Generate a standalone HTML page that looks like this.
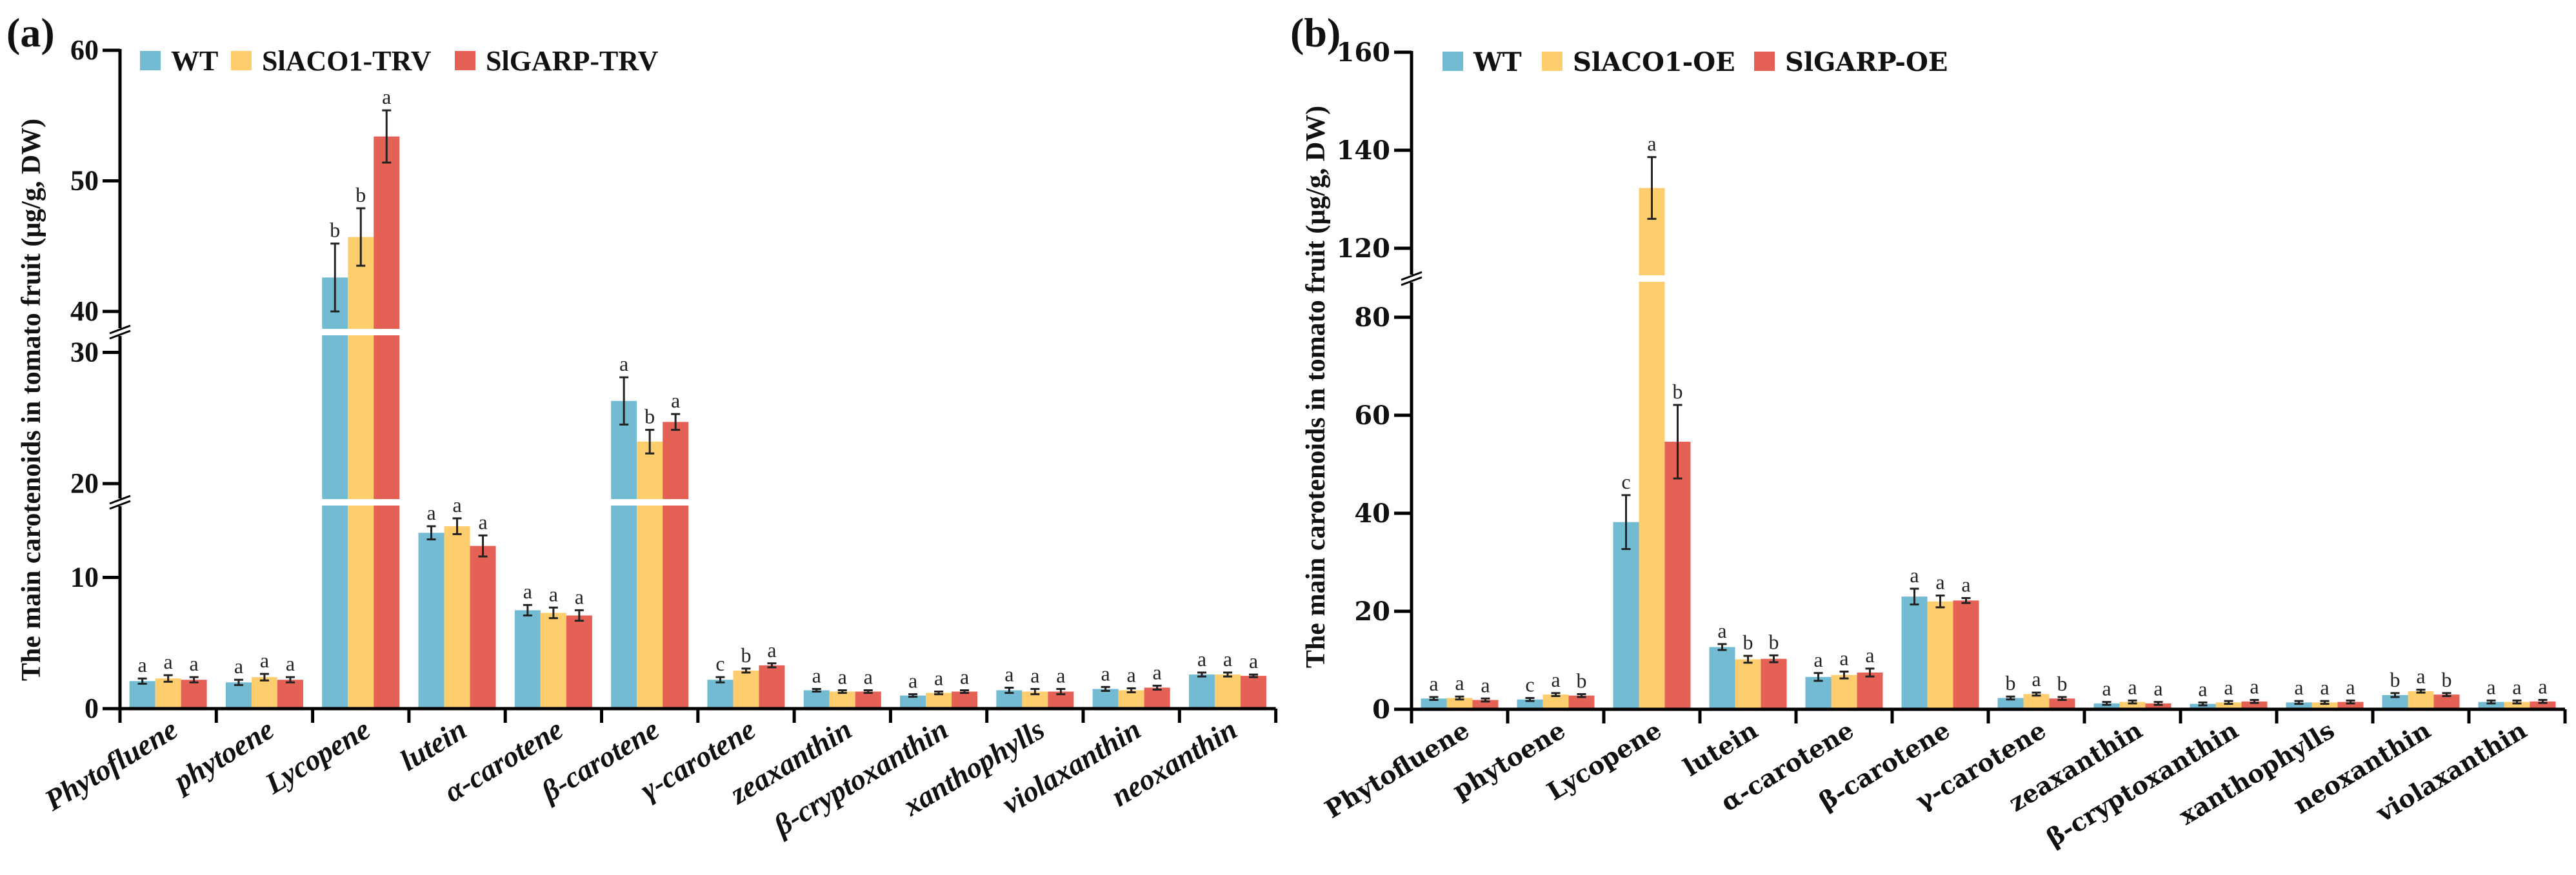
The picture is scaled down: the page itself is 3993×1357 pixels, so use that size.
<!DOCTYPE html>
<html><head><meta charset="utf-8"><style>
html,body{margin:0;padding:0;background:#fff;}
svg{display:block;font-family:"Liberation Serif",serif;}
</style></head><body>
<svg id="c" width="3993" height="1357" viewBox="0 0 3993 1357" xmlns="http://www.w3.org/2000/svg"></svg>
<script>
const categoriesA = ["Phytofluene","phytoene","Lycopene","lutein","α-carotene","β-carotene","γ-carotene","zeaxanthin","β-cryptoxanthin","xanthophylls","violaxanthin","neoxanthin"];
const seriesNamesA = ["WT","SlACO1-TRV","SlGARP-TRV"];
const wtA =   [2.1,2.0,42.6,13.4,7.5,26.3,2.2,1.4,1.0,1.4,1.5,2.6];
const acoA =  [2.3,2.4,45.7,13.9,7.3,23.2,2.9,1.3,1.2,1.3,1.4,2.6];
const garpA = [2.2,2.2,53.4,12.4,7.1,24.7,3.3,1.3,1.3,1.3,1.6,2.5];
const wtErrA =   [0.2,0.2,2.6,0.5,0.4,1.8,0.2,0.1,0.1,0.2,0.15,0.15];
const acoErrA =  [0.25,0.25,2.2,0.6,0.4,0.9,0.15,0.1,0.1,0.2,0.15,0.15];
const garpErrA = [0.2,0.2,2.0,0.8,0.4,0.6,0.15,0.1,0.1,0.2,0.15,0.1];
const lettersA = [["a","a","a"],["a","a","a"],["b","b","a"],["a","a","a"],["a","a","a"],["a","b","a"],["c","b","a"],["a","a","a"],["a","a","a"],["a","a","a"],["a","a","a"],["a","a","a"]];
const ticksA = [0,10,20,30,40,50,60];

const categoriesB = ["Phytofluene","phytoene","Lycopene","lutein","α-carotene","β-carotene","γ-carotene","zeaxanthin","β-cryptoxanthin","xanthophylls","neoxanthin","violaxanthin"];
const seriesNamesB = ["WT","SlACO1-OE","SlGARP-OE"];
const wtB =   [2.2,2.0,38.2,12.7,6.6,23.0,2.3,1.2,1.1,1.4,2.9,1.5];
const acoB =  [2.3,3.0,132.3,10.2,7.0,22.0,3.1,1.5,1.4,1.4,3.7,1.5];
const garpB = [1.9,2.8,54.6,10.3,7.5,22.2,2.2,1.2,1.6,1.5,3.0,1.6];
const wtErrB =   [0.3,0.3,5.5,0.6,0.8,1.6,0.3,0.3,0.3,0.3,0.4,0.3];
const acoErrB =  [0.3,0.3,6.3,0.7,0.7,1.2,0.3,0.3,0.3,0.3,0.3,0.3];
const garpErrB = [0.3,0.3,7.5,0.7,0.8,0.5,0.3,0.3,0.3,0.3,0.3,0.3];
const lettersB = [["a","a","a"],["c","a","b"],["c","a","b"],["a","b","b"],["a","a","a"],["a","a","a"],["b","a","b"],["a","a","a"],["a","a","a"],["a","a","a"],["b","a","b"],["a","a","a"]];
const ticksB = [0,20,40,60,80,120,140,160];

const colors = ["#72BBD2","#FDCD6E","#E66155"];
const NS = "http://www.w3.org/2000/svg";
const svg = document.getElementById('c');
function el(tag, attrs, parent, txt){
  const e = document.createElementNS(NS, tag);
  for (const k in attrs) e.setAttribute(k, attrs[k]);
  if (txt !== undefined) e.textContent = txt;
  (parent||svg).appendChild(e);
  return e;
}
function yA(v){
  if (v <= 17) return 1099 - 20.35*v;
  if (v <= 34) return 750 - 20.35*(v-20);
  return 483 - 20.25*(v-40);
}
function yB(v){
  if (v <= 100) return 1100 - 7.6*v;
  return 385 - 7.6*(v-120);
}
function panel(opt){
  const g = el('g',{});
  
  
  const x0 = opt.x0, cw = opt.cw, y = opt.y, yBase = y(0);
  const n = opt.cats.length;
  const series = [opt.s0, opt.s1, opt.s2];
  const errs = [opt.e0, opt.e1, opt.e2];
  const bw = 40;
  for (let i=0;i<n;i++){
    const cx = x0 + cw*(i+0.5);
    for (let s=0;s<3;s++){
      const bx = cx - 60 + s*bw;
      const v = series[s][i];
      const top = y(v);
      const r = el('rect',{x:bx,y:top,width:bw,height:yBase-top,fill:colors[s]},g);
      
      
      opt.breaks.forEach(b=>{
        if (top < b - 6) el('rect',{x:bx-1,y:b-5,width:bw+2,height:10,fill:'#fff'},g);
      });
      const e = errs[s][i];
      const ex = bx + bw/2;
      const yt = y(v+e), yb = y(v-e);
      const eb = el('path',{d:`M${ex},${yt}V${yb}M${ex-7},${yt}H${ex+7}M${ex-7},${yb}H${ex+7}`,stroke:'#222','stroke-width':3,fill:'none'},g);
      
      
      const t = el('text',{x:ex,y:yt-10,'text-anchor':'middle','font-size':32,fill:'#222'},g,opt.letters[i][s]);
      
      
    }
    const lx = cx + 18, ly = 1140;
    const lab = el('text',{x:lx,y:ly,'text-anchor':'end','font-size':opt.labFs,'font-weight':'bold','font-family':opt.labFont,'font-style':opt.italic?'italic':'normal',transform:`rotate(-31 ${lx} ${ly})`,fill:'#111'},g,opt.cats[i]);
    
    
  }
  const xEnd = x0 + cw*n;
  const xa = el('line',{x1:x0-27,y1:yBase,x2:xEnd,y2:yBase,stroke:'#000','stroke-width':5},g);
  
  
  for (let i=0;i<=n;i++){
    el('line',{x1:x0+cw*i,y1:yBase,x2:x0+cw*i,y2:yBase+22,stroke:'#000','stroke-width':5},g);
  }
  const ya = el('line',{x1:x0,y1:y(opt.ymax)-2,x2:x0,y2:yBase+22,stroke:'#000','stroke-width':5},g);
  
  
  opt.breaks.forEach(b=>{
    el('rect',{x:x0-6,y:b-6,width:12,height:12,fill:'#fff'},g);
    el('path',{d:`M${x0-16},${b+2}L${x0+16},${b-10}M${x0-16},${b+10}L${x0+16},${b-2}`,stroke:'#000','stroke-width':3},g);
  });
  opt.ticks.forEach(t=>{
    const ty = y(t);
    el('line',{x1:x0-27,y1:ty,x2:x0,y2:ty,stroke:'#000','stroke-width':5},g);
    const tl = el('text',{x:x0-33,y:ty+14,'text-anchor':'end','font-size':opt.tickFs,'font-weight':'bold','font-family':opt.tickFont,fill:'#111'},g,String(t));
    
    
  });
  opt.legendX.forEach((lx,s)=>{
    const sw = el('rect',{x:lx,y:opt.legendY-15,width:32,height:30,fill:colors[s]},g);
    
    
    const lt = el('text',{x:lx+48,y:opt.legendY+15,'font-size':opt.legFs,'font-weight':'bold','font-family':opt.tickFont,fill:'#111'},g,opt.series[s]);
    
    
  });
  const yt = el('text',{x:opt.titleX,y:opt.titleY,'text-anchor':'middle','font-size':opt.titleFs,'font-weight':'bold',transform:`rotate(-90 ${opt.titleX} ${opt.titleY})`,fill:'#111'},g,'The main carotenoids in tomato fruit (μg/g, DW)');
  
  
  const pl = el('text',{x:opt.labX,y:opt.labY,'font-size':64,'font-weight':'bold',fill:'#111'},g,opt.label);
  
  
}
panel({name:'panel-a',x0:186,cw:149.3,y:yA,ymax:60,cats:categoriesA,series:seriesNamesA,s0:wtA,s1:acoA,s2:garpA,e0:wtErrA,e1:acoErrA,e2:garpErrA,letters:lettersA,ticks:ticksA,breaks:[779,515],italic:true,labFs:46,labFont:'Liberation Serif',tickFont:'Liberation Serif',legendX:[217,358,705],legendY:94,legFs:44,tickFs:44,titleX:62,titleY:620,titleFs:42,labX:10,labY:72,label:'(a)'});
panel({name:'panel-b',x0:2188,cw:149,y:yB,ymax:160,cats:categoriesB,series:seriesNamesB,s0:wtB,s1:acoB,s2:garpB,e0:wtErrB,e1:acoErrB,e2:garpErrB,letters:lettersB,ticks:ticksB,breaks:[432],italic:false,labFs:38,labFont:'DejaVu Serif',tickFont:'DejaVu Serif',legendX:[2236,2390,2719],legendY:95,legFs:40,tickFs:40,titleX:2053,titleY:600,titleFs:42,labX:2000,labY:72,label:'(b)'});
</script>
</body></html>
